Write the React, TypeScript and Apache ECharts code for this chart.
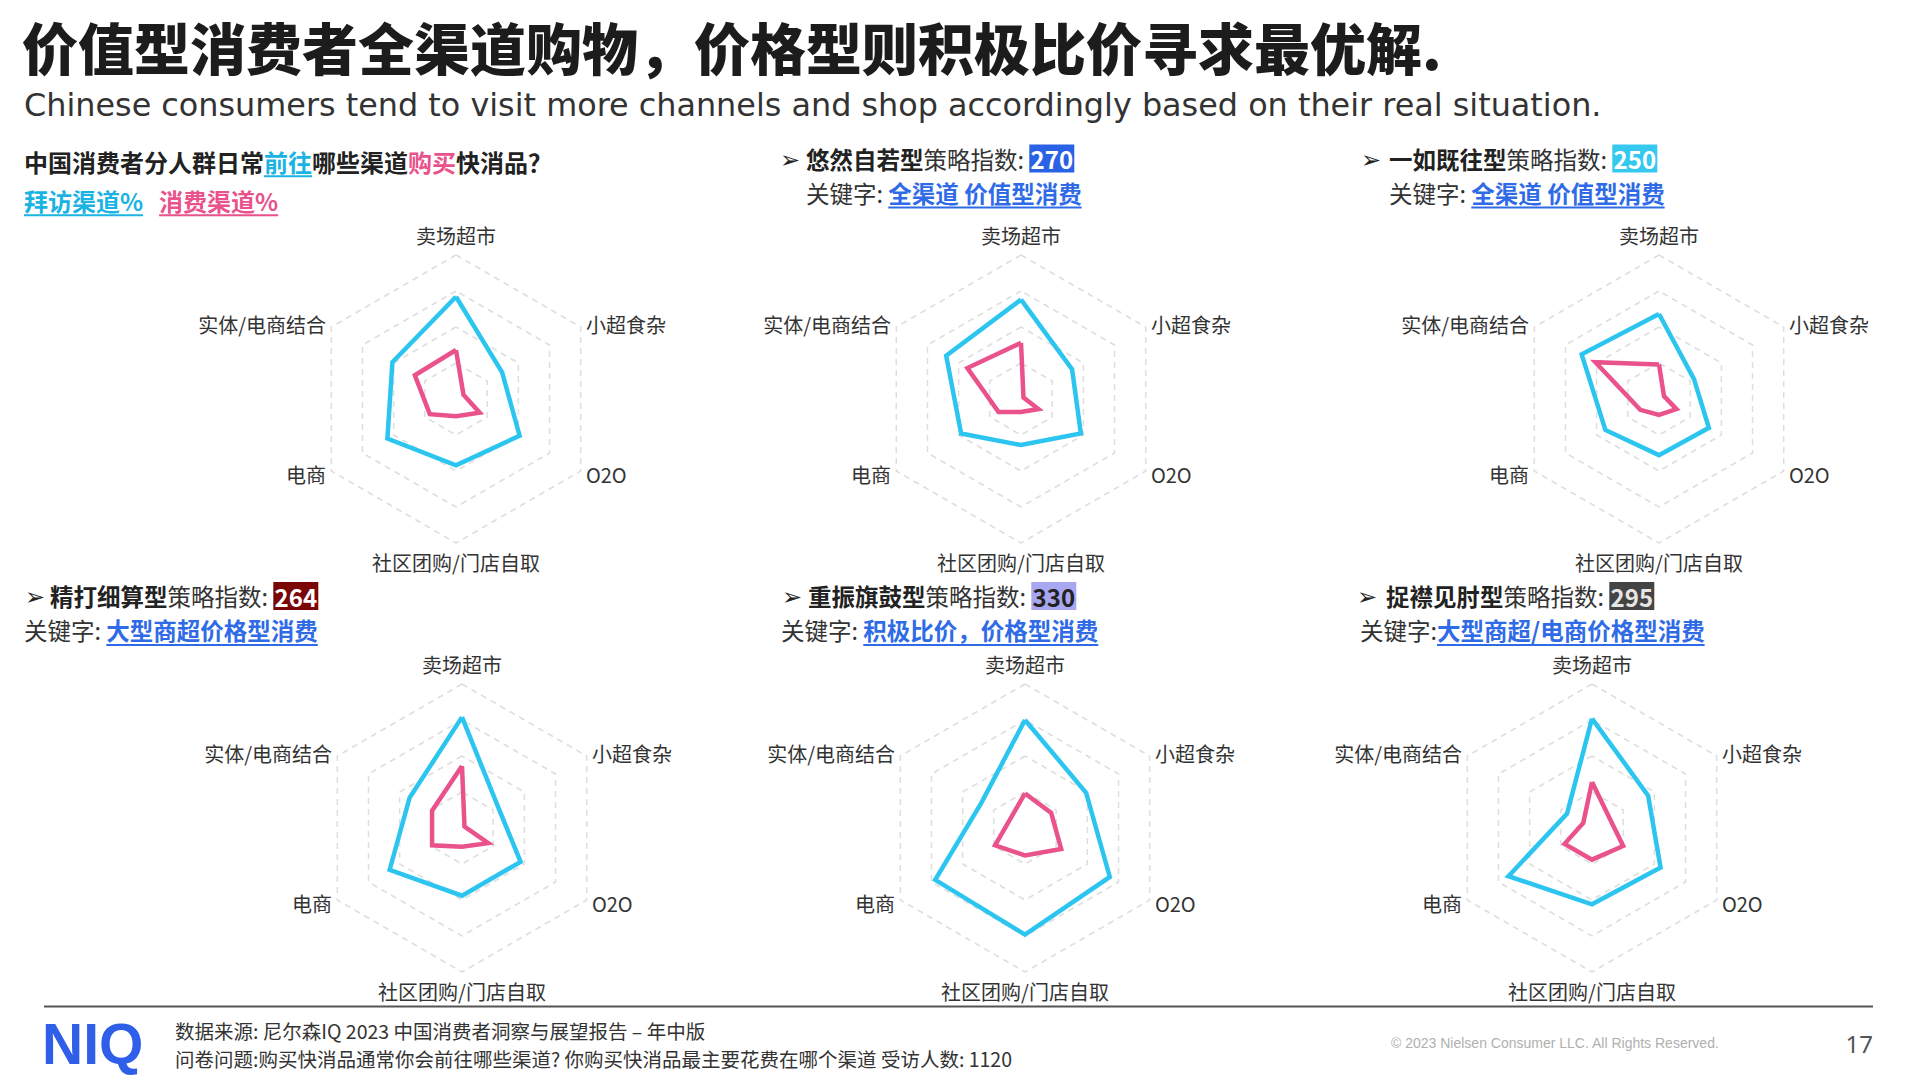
import React, { useEffect, useRef } from 'react';
import * as echarts from 'echarts';

// ---------------- DATA ----------------
// indicator order follows ECharts radar (counter-clockwise from top)
const indicatorNames = ['卖场超市', '实体/电商结合', '电商', '社区团购/门店自取', 'O2O', '小超食杂'];
const indicatorMax = 100;

// 拜访渠道% (visit) per group
const visitAll = [71, 51, 55, 46, 51, 37];
const visitYouran = [69, 60, 48, 32, 48, 41];
const visitYiru = [59, 62, 43, 39, 40, 28];
const visitJingda = [77, 42, 58, 47, 47, 29];
const visitChongzhen = [75, 35, 72, 74, 68, 49];
const visitZhuojin = [76, 20, 67, 53, 55, 45];

// 消费渠道% (purchase) per group
const buyAll = [34, 33, 21, 12, 19, 6];
const buyYouran = [39, 43, 18, 9, 14, 2];
const buyYiru = [24, 51, 15, 11, 14, 4];
const buyJingda = [43, 24, 24, 13, 21, 2];
const buyChongzhen = [24, 12, 24, 19, 29, 21];
const buyZhuojin = [32, 7, 22, 22, 25, 14];

const segmentNames = ['悠然自若型', '一如既往型', '精打细算型', '重振旗鼓型', '捉襟见肘型'];
const strategyIndex = [270, 250, 264, 330, 295];
const keywordLabels = ['关键字: ', '关键字: ', '关键字: ', '关键字: ', '关键字:'];
const keywords = ['全渠道 价值型消费', '全渠道 价值型消费', '大型商超价格型消费', '积极比价，价格型消费', '大型商超/电商价格型消费'];

const titleText = '价值型消费者全渠道购物，价格型则积极比价寻求最优解.';
const subtitleText = 'Chinese consumers tend to visit more channels and shop accordingly based on their real situation.';
const sourceLine = '数据来源: 尼尔森IQ 2023 中国消费者洞察与展望报告 – 年中版';
const questionLine = '问卷问题:购买快消品通常你会前往哪些渠道? 你购买快消品最主要花费在哪个渠道 受访人数: 1120';
const copyrightText = '© 2023 Nielsen Consumer LLC. All Rights Reserved.';
const pageNumber = '17';

const visitSeries = [visitAll, visitYouran, visitYiru, visitJingda, visitChongzhen, visitZhuojin];
const buySeries = [buyAll, buyYouran, buyYiru, buyJingda, buyChongzhen, buyZhuojin];

// ---------------- LAYOUT / STYLE ----------------
const FONT = '"Noto Sans CJK SC", "Noto Sans", sans-serif';
const SUB_FONT = '"DejaVu Sans", sans-serif';
const BLUE = '#2cc5f0';
const PINK = '#e9528b';
const CYAN_TXT = '#1ab3e2';
const LINK = '#2f6be6';
const radarCenters: [number, number][] = [
  [456, 399], [1021, 399], [1659, 399],
  [462, 828], [1025, 828], [1592, 828],
];
const RADIUS = 144;
const boxBg = ['#2a62e6', '#35c9f0', '#7a0606', '#a9a7f0', '#444444'];
const boxFg = ['#ffffff', '#ffffff', '#ffffff', '#222222', '#e6e6e6'];
// header positions: [arrowX, textX, y1, line2X, y2]
const headerPos = [
  [780, 806, 158.5, 806, 192.5],
  [1361, 1389, 158.5, 1389, 192.5],
  [25, 50, 596, 24, 630],
  [782, 808, 596, 781, 630],
  [1357, 1386, 596, 1360, 630],
];
const HEAD_SIZE = 23.5;

let measureCtx: CanvasRenderingContext2D | null = null;
function tw(text: string, size: number, weight: number, family: string = FONT) {
  if (!measureCtx) measureCtx = document.createElement('canvas').getContext('2d');
  measureCtx!.font = `${weight} ${size}px ${family}`;
  return measureCtx!.measureText(text).width;
}

type Seg = {
  t: string; size: number; weight?: number; color?: string; ul?: boolean;
  bg?: string; boxW?: number; family?: string; gapAfter?: number;
};

function txt(x: number, y: number, text: string, size: number, opts: any = {}) {
  return {
    type: 'text', silent: true, x, y,
    style: {
      text, fill: opts.color ?? '#222', fontSize: size, fontWeight: opts.weight ?? 400,
      fontFamily: opts.family ?? FONT, align: opts.align ?? 'left', verticalAlign: 'middle',
      lineHeight: opts.lineHeight ?? Math.round(size * 1.1),
    },
  };
}

function buildLine(segs: Seg[], x0: number, y: number) {
  const els: any[] = [];
  let x = x0;
  for (const s of segs) {
    const weight = s.weight ?? 400;
    const family = s.family ?? FONT;
    const w = tw(s.t, s.size, weight, family);
    if (s.bg) {
      const bw = s.boxW ?? w + 6;
      els.push({ type: 'rect', silent: true, shape: { x, y: y - 14, width: bw, height: 28 }, style: { fill: s.bg } });
      els.push(txt(x + bw / 2, y, s.t, s.size, { color: s.color, weight, family, align: 'center' }));
      x += bw;
    } else {
      els.push(txt(x, y, s.t, s.size, { color: s.color, weight, family }));
      if (s.ul) {
        const uy = y + s.size * 0.64;
        els.push({ type: 'line', silent: true, shape: { x1: x, y1: uy, x2: x + w, y2: uy }, style: { stroke: s.color, lineWidth: 2 } });
      }
      x += w;
    }
    x += s.gapAfter ?? 0;
  }
  return els;
}

function buildGraphic() {
  const els: any[] = [];
  els.push(txt(22, 45, titleText, 56, { color: '#1c1c1c', weight: 900, lineHeight: 58 }));
  const subSize = (30 * 1578) / tw(subtitleText, 30, 400, SUB_FONT);
  els.push(txt(24, 105, subtitleText, subSize, { color: '#333', family: SUB_FONT, lineHeight: Math.round(subSize) }));
  // left header
  els.push(...buildLine([
    { t: '中国消费者分人群日常', size: 24, weight: 700, color: '#222' },
    { t: '前往', size: 24, weight: 700, color: CYAN_TXT, ul: true },
    { t: '哪些渠道', size: 24, weight: 700, color: '#222' },
    { t: '购买', size: 24, weight: 700, color: PINK },
    { t: '快消品？', size: 24, weight: 700, color: '#222' },
  ], 24, 161));
  els.push(...buildLine([
    { t: '拜访渠道%', size: 24, weight: 700, color: CYAN_TXT, ul: true, gapAfter: 16 },
    { t: '消费渠道%', size: 24, weight: 700, color: PINK, ul: true },
  ], 24, 200));
  // group headers
  segmentNames.forEach((name, i) => {
    const [ax, tx, y1, lx, y2] = headerPos[i];
    els.push(txt(ax, y1 + 1, '➢', 24, { color: '#222', weight: 700, family: '"DejaVu Sans", sans-serif', lineHeight: 24 }));
    els.push(...buildLine([
      { t: name, size: HEAD_SIZE, weight: 700, color: '#222' },
      { t: '策略指数: ', size: HEAD_SIZE, weight: 400, color: '#333' },
      { t: String(strategyIndex[i]), size: 24, weight: 700, color: boxFg[i], bg: boxBg[i], boxW: 45 },
    ], tx, y1));
    els.push(...buildLine([
      { t: keywordLabels[i], size: HEAD_SIZE, weight: 400, color: '#333' },
      { t: keywords[i], size: HEAD_SIZE, weight: 700, color: LINK, ul: true },
    ], lx, y2));
  });
  // footer
  els.push({ type: 'line', silent: true, shape: { x1: 44, y1: 1006.5, x2: 1873, y2: 1006.5 }, style: { stroke: '#555', lineWidth: 2 } });
  els.push(txt(42, 1044, 'NIQ', 57, { color: '#2f5fe8', weight: 900, family: '"Liberation Sans", sans-serif', lineHeight: 50 }));
  els.push(txt(175, 1030, sourceLine, 19.5, { color: '#333', lineHeight: 22 }));
  els.push(txt(175, 1058, questionLine, 19.5, { color: '#333', lineHeight: 22 }));
  els.push(txt(1391, 1043, copyrightText, 14, { color: '#b0b0b0', family: '"Liberation Sans", sans-serif' }));
  els.push(txt(1873, 1043, pageNumber, 24, { color: '#555', family: '"Noto Sans", sans-serif', align: 'right' }));
  return els;
}

const LABEL_SIZE = 20;
const richLabel = {
  t: { fontSize: LABEL_SIZE, color: '#333', fontFamily: FONT, lineHeight: 22, padding: [0, 0, 5, 0] },
  b: { fontSize: LABEL_SIZE, color: '#333', fontFamily: FONT, lineHeight: 22, padding: [4, 0, 0, 0] },
  s: { fontSize: LABEL_SIZE, color: '#333', fontFamily: FONT, lineHeight: 22 },
};

export default function App() {
  const ref = useRef<HTMLDivElement>(null);
  useEffect(() => {
    if (!ref.current) return;
    const chart = echarts.init(ref.current, null, { renderer: 'svg' });
    const radar = radarCenters.map((c) => ({
      center: [c[0], c[1]],
      radius: RADIUS,
      startAngle: 90,
      splitNumber: 4,
      shape: 'polygon',
      nameGap: 6,
      indicator: indicatorNames.map((n) => ({ name: n, max: indicatorMax, min: 0 })),
      axisName: {
        color: '#333', fontSize: LABEL_SIZE, fontFamily: FONT,
        formatter: (name: string) => {
          const idx = indicatorNames.indexOf(name);
          const key = idx === 0 ? 't' : idx === 3 ? 'b' : 's';
          return `{${key}|${name}}`;
        },
        rich: richLabel,
      },
      axisLine: { show: false },
      axisTick: { show: false },
      axisLabel: { show: false },
      splitLine: { lineStyle: { color: '#dedede', type: [6, 5], width: 1.5 } },
      splitArea: { show: false },
    }));
    const series = radarCenters.map((_, i) => ({
      type: 'radar',
      radarIndex: i,
      symbol: 'none',
      silent: true,
      data: [
        { name: '拜访渠道%', value: visitSeries[i], lineStyle: { color: BLUE, width: 4.5, join: 'miter' } },
        { name: '消费渠道%', value: buySeries[i], lineStyle: { color: PINK, width: 4.5, join: 'miter' } },
      ],
    }));
    chart.setOption({
      animation: false,
      backgroundColor: '#ffffff',
      radar,
      series,
      graphic: { elements: buildGraphic() },
    });
    return () => chart.dispose();
  }, []);
  return (
    <div
      ref={ref}
      style={{ position: 'fixed', left: 0, top: 0, width: 1920, height: 1080, background: '#fff' }}
    />
  );
}
